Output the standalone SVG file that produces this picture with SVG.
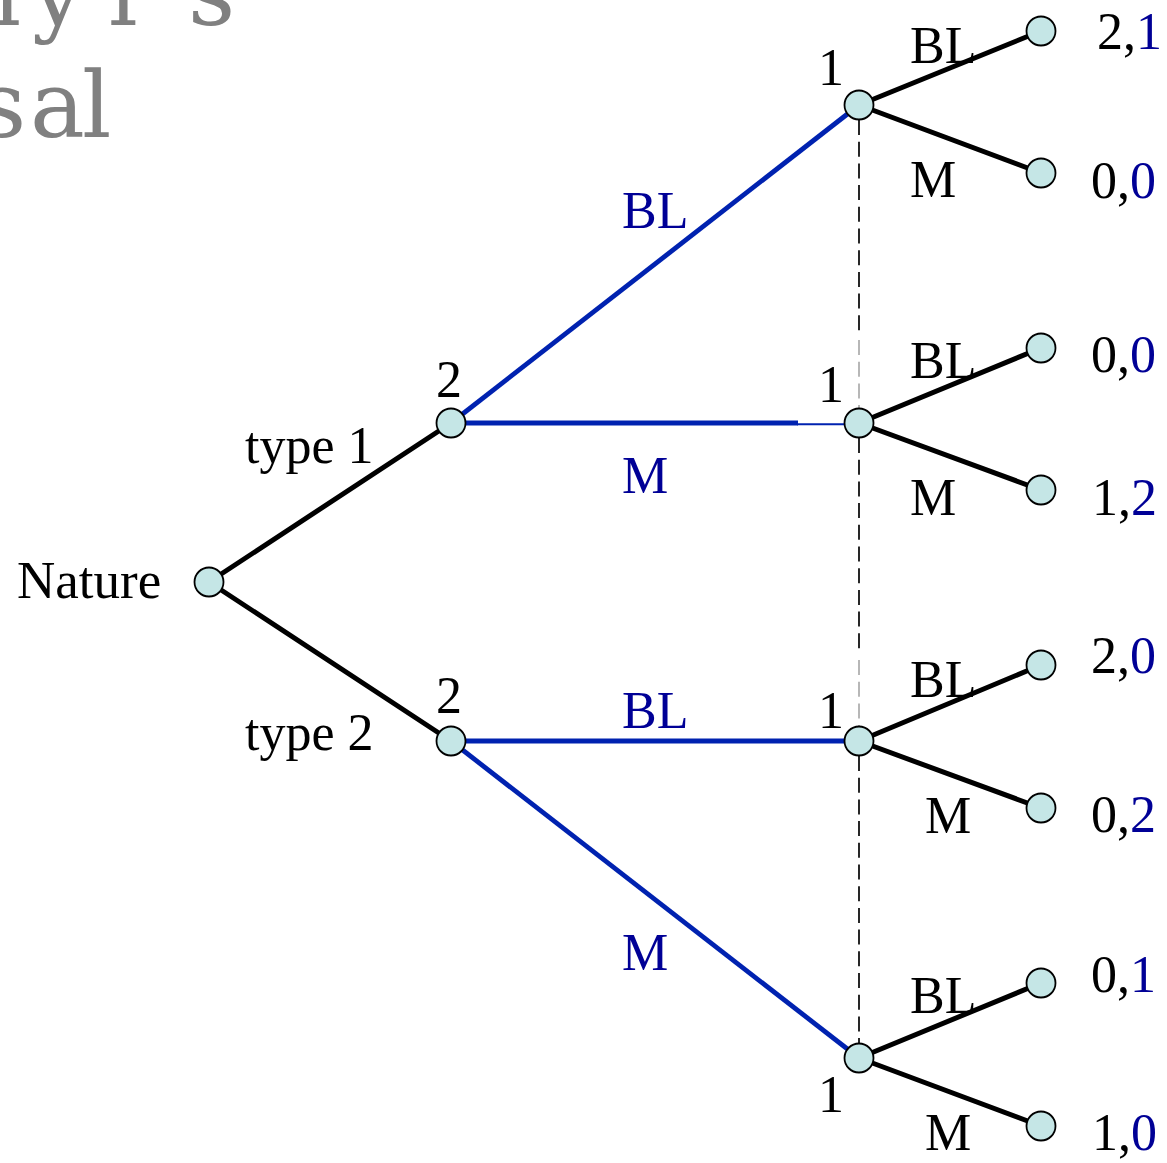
<svg xmlns="http://www.w3.org/2000/svg" width="1167" height="1163" viewBox="0 0 1167 1163">
<style>
.t{font-family:"Liberation Serif","Times New Roman",serif;font-size:52px;fill:#000}
.b{fill:#000096}
.ttl{font-family:"DejaVu Serif",serif;font-size:92px;fill:#808080}
.e{stroke:#000;stroke-width:5;stroke-linecap:round;fill:none}
.be{stroke:#0022b0;stroke-width:4.8;fill:none}
.n{fill:#c5e6e6;stroke:#000;stroke-width:1.8}
.d{stroke:#111;stroke-width:1.8;stroke-dasharray:15 6.7;fill:none}
.dl{stroke:#888;stroke-width:1.2;stroke-dasharray:15 6.7;fill:none}
</style>
<rect width="1167" height="1163" fill="#fff"/>
<g id="title">
<text class="ttl" x="-38 32 108 152 188" y="25">nyi's</text>
<text class="ttl" x="-21 30 82" y="137">sal</text>
</g>
<g id="connectors">
<line class="d" x1="859" y1="120" x2="859" y2="335"/>
<line class="dl" x1="859" y1="340" x2="859" y2="408"/>
<line class="d" x1="859" y1="438" x2="859" y2="655"/>
<line class="dl" x1="859" y1="660" x2="859" y2="726"/>
<line class="d" x1="859" y1="756" x2="859" y2="1043"/>
<line class="e" x1="209" y1="582" x2="451" y2="423"/>
<line class="e" x1="209" y1="582" x2="451" y2="741"/>
<line class="be" x1="451" y1="423" x2="859" y2="105"/>
<line class="be" x1="451" y1="423" x2="798" y2="423"/>
<line stroke="#0022b0" stroke-width="2" x1="797" y1="424.3" x2="859" y2="424.3"/>
<line class="be" x1="451" y1="741" x2="859" y2="741"/>
<line class="be" x1="451" y1="741" x2="859" y2="1058"/>
<line class="e" x1="859" y1="105" x2="1041" y2="31"/>
<line class="e" x1="859" y1="105" x2="1041" y2="173"/>
<line class="e" x1="859" y1="423" x2="1041" y2="348"/>
<line class="e" x1="859" y1="423" x2="1041" y2="490"/>
<line class="e" x1="859" y1="741" x2="1041" y2="665"/>
<line class="e" x1="859" y1="741" x2="1041" y2="808"/>
<line class="e" x1="859" y1="1058" x2="1041" y2="983"/>
<line class="e" x1="859" y1="1058" x2="1041" y2="1126"/>
</g>
<g id="edge-labels">
<text class="t" x="245" y="463">type 1</text>
<text class="t" x="245" y="750">type 2</text>
<text class="t b" x="622" y="228">BL</text>
<text class="t b" x="622" y="493">M</text>
<text class="t b" x="622" y="728">BL</text>
<text class="t b" x="622" y="970">M</text>
<text class="t" x="910" y="63">BL</text>
<text class="t" x="910" y="197">M</text>
<text class="t" x="910" y="378">BL</text>
<text class="t" x="910" y="515">M</text>
<text class="t" x="910" y="697">BL</text>
<text class="t" x="925" y="833">M</text>
<text class="t" x="910" y="1013">BL</text>
<text class="t" x="925" y="1150">M</text>
</g>
<g id="nature"><circle class="n" cx="209" cy="582" r="14.5"/><text class="t" x="17" y="598" style="font-size:53px">Nature</text></g>
<g id="p2-type1"><circle class="n" cx="451" cy="423" r="14.5"/><text class="t" x="436" y="397">2</text></g>
<g id="p2-type2"><circle class="n" cx="451" cy="741" r="14.5"/><text class="t" x="436" y="713">2</text></g>
<g id="p1-a"><circle class="n" cx="859" cy="105" r="14.5"/><text class="t" x="818" y="85">1</text></g>
<g id="p1-b"><circle class="n" cx="859" cy="423" r="14.5"/><text class="t" x="818" y="402">1</text></g>
<g id="p1-c"><circle class="n" cx="859" cy="741" r="14.5"/><text class="t" x="818" y="728">1</text></g>
<g id="p1-d"><circle class="n" cx="859" cy="1058" r="14.5"/><text class="t" x="818" y="1112">1</text></g>
<g id="leaf1"><circle class="n" cx="1041" cy="31" r="14.5"/><text class="t" x="1097" y="49">2,<tspan class="b">1</tspan></text></g>
<g id="leaf2"><circle class="n" cx="1041" cy="173" r="14.5"/><text class="t" x="1091" y="198">0,<tspan class="b">0</tspan></text></g>
<g id="leaf3"><circle class="n" cx="1041" cy="348" r="14.5"/><text class="t" x="1091" y="372">0,<tspan class="b">0</tspan></text></g>
<g id="leaf4"><circle class="n" cx="1041" cy="490" r="14.5"/><text class="t" x="1092" y="515">1,<tspan class="b">2</tspan></text></g>
<g id="leaf5"><circle class="n" cx="1041" cy="665" r="14.5"/><text class="t" x="1091" y="673">2,<tspan class="b">0</tspan></text></g>
<g id="leaf6"><circle class="n" cx="1041" cy="808" r="14.5"/><text class="t" x="1091" y="832">0,<tspan class="b">2</tspan></text></g>
<g id="leaf7"><circle class="n" cx="1041" cy="983" r="14.5"/><text class="t" x="1091" y="992">0,<tspan class="b">1</tspan></text></g>
<g id="leaf8"><circle class="n" cx="1041" cy="1126" r="14.5"/><text class="t" x="1092" y="1150">1,<tspan class="b">0</tspan></text></g>
</svg>
